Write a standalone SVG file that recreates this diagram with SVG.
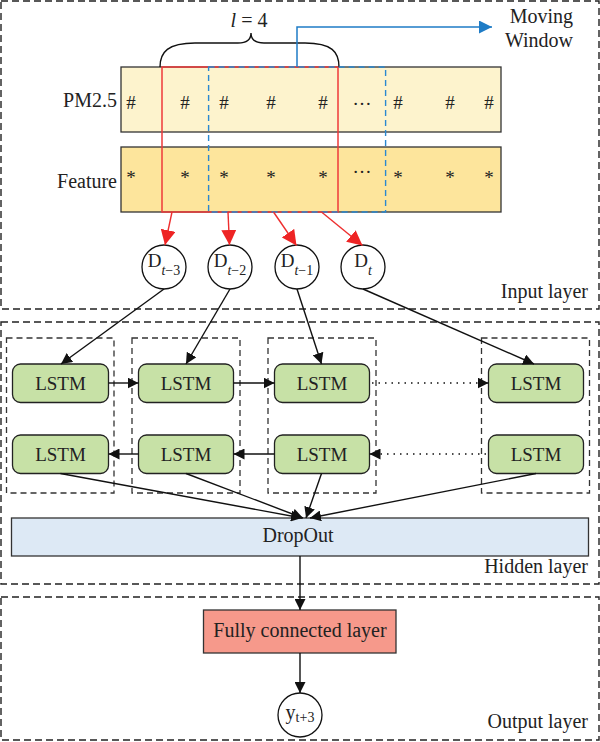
<svg xmlns="http://www.w3.org/2000/svg" width="600" height="742" viewBox="0 0 600 742">
<defs>
<style>
text{font-family:"Liberation Serif","Times New Roman",serif;fill:#222;}
.lbl{font-size:20px;}
.sym{font-size:19px;text-anchor:middle;}
.layer{fill:none;stroke:#222;stroke-width:1.4;stroke-dasharray:7 4;}
.cell{fill:none;stroke:#333;stroke-width:1.3;stroke-dasharray:6 4;}
.lstm{fill:#c7e1a6;stroke:#222;stroke-width:1.3;}
.lstm-t{font-size:19px;text-anchor:middle;}
.blk{stroke:#111;stroke-width:1.4;fill:none;}
.dot{stroke:#111;stroke-width:1.4;fill:none;stroke-dasharray:1.5 5;}
.red{stroke:#ee2e2e;stroke-width:1.4;fill:none;}
.circ{fill:#fff;stroke:#111;stroke-width:1.3;}
</style>
<marker id="ab" viewBox="0 0 10 10" refX="10" refY="5" markerWidth="11" markerHeight="11" markerUnits="userSpaceOnUse" orient="auto"><path d="M0,0 L10,5 L0,10 Z" fill="#111"/></marker>
<marker id="ar" viewBox="0 0 10 10" refX="10" refY="5" markerWidth="15" markerHeight="15" markerUnits="userSpaceOnUse" orient="auto"><path d="M0,0 L10,5 L0,10 Z" fill="#ee2424"/></marker>
<marker id="abl" viewBox="0 0 10 10" refX="10" refY="5" markerWidth="13" markerHeight="13" markerUnits="userSpaceOnUse" orient="auto"><path d="M0,0 L10,5 L0,10 Z" fill="#1f7cc6"/></marker>
</defs>
<rect width="600" height="742" fill="#fff"/>

<g id="input-layer">
<rect class="layer" x="1" y="1" width="598" height="308"/>
<text class="lbl" x="588" y="298" text-anchor="end">Input layer</text>
</g>
<g id="hidden-layer">
<rect class="layer" x="1" y="322" width="598" height="262"/>
<text class="lbl" x="588" y="573" text-anchor="end">Hidden layer</text>
</g>
<g id="output-layer">
<rect class="layer" x="1" y="597" width="598" height="143"/>
<text class="lbl" x="588" y="728" text-anchor="end">Output layer</text>
</g>

<g id="pm25">
<rect x="121" y="67" width="380" height="65" fill="#fdf3cd" stroke="#333" stroke-width="1.3"/>
<text class="lbl" x="117" y="107" text-anchor="end">PM2.5</text>
<text class="sym" y="109"><tspan x="131">#</tspan><tspan x="185">#</tspan><tspan x="224">#</tspan><tspan x="271">#</tspan><tspan x="323">#</tspan><tspan x="398">#</tspan><tspan x="450">#</tspan><tspan x="489">#</tspan></text>
<text class="sym" x="362" y="105">…</text>
</g>
<g id="feature">
<rect x="121" y="147" width="380" height="65" fill="#fde59c" stroke="#333" stroke-width="1.3"/>
<text class="lbl" x="117" y="188" text-anchor="end">Feature</text>
<text class="sym" y="184"><tspan x="131">*</tspan><tspan x="185">*</tspan><tspan x="224">*</tspan><tspan x="271">*</tspan><tspan x="323">*</tspan><tspan x="398">*</tspan><tspan x="450">*</tspan><tspan x="489">*</tspan></text>
<text class="sym" x="362" y="173">…</text>
</g>

<g id="window-l4">
<rect x="162" y="67" width="176" height="145" fill="none" stroke="#ee3a3a" stroke-width="1.5"/>
<path d="M160,67 C160,52 168,43 195,43 L238,43 C247,43 251,39 251,33 C251,39 255,43 264,43 L305,43 C332,43 339,52 339,67" fill="none" stroke="#111" stroke-width="1.4"/>
<text x="249" y="27" font-size="20" text-anchor="middle"><tspan font-style="italic">l</tspan> = 4</text>
</g>
<g id="moving-window">
<rect x="208.6" y="67" width="177" height="145" fill="none" stroke="#2a88d0" stroke-width="1.4" stroke-dasharray="6 4"/>
<path d="M297,67 L297,27 L492,27" fill="none" stroke="#1f7cc6" stroke-width="1.5" marker-end="url(#abl)"/>
<text class="lbl" x="573" y="23" text-anchor="end">Moving</text>
<text class="lbl" x="573" y="47" text-anchor="end">Window</text>
</g>

<g id="d-t3"><circle class="circ" cx="164" cy="267" r="22"/><text x="164" y="267" font-size="19" text-anchor="middle">D<tspan font-size="14" dy="8"><tspan font-style="italic">t</tspan>−3</tspan></text></g>
<g id="d-t2"><circle class="circ" cx="230" cy="267" r="22"/><text x="230" y="267" font-size="19" text-anchor="middle">D<tspan font-size="14" dy="8"><tspan font-style="italic">t</tspan>−2</tspan></text></g>
<g id="d-t1"><circle class="circ" cx="297" cy="267" r="22"/><text x="297" y="267" font-size="19" text-anchor="middle">D<tspan font-size="14" dy="8"><tspan font-style="italic">t</tspan>−1</tspan></text></g>
<g id="d-t"><circle class="circ" cx="363" cy="267" r="22"/><text x="363" y="267" font-size="19" text-anchor="middle">D<tspan font-size="14" dy="8" font-style="italic">t</tspan></text></g>

<g id="cell-1"><rect class="cell" x="6.5" y="338" width="107.5" height="155"/></g>
<g id="cell-2"><rect class="cell" x="132" y="338" width="108" height="155"/></g>
<g id="cell-3"><rect class="cell" x="268" y="338" width="108" height="155"/></g>
<g id="cell-4"><rect class="cell" x="481.5" y="338" width="108" height="155"/></g>

<g id="lstm-f1"><rect class="lstm" x="12.5" y="364" width="96" height="38.5" rx="8"/><text class="lstm-t" x="60.5" y="390">LSTM</text></g>
<g id="lstm-f2"><rect class="lstm" x="138.5" y="364" width="95" height="38.5" rx="8"/><text class="lstm-t" x="186" y="390">LSTM</text></g>
<g id="lstm-f3"><rect class="lstm" x="274.5" y="364" width="95" height="38.5" rx="8"/><text class="lstm-t" x="322" y="390">LSTM</text></g>
<g id="lstm-f4"><rect class="lstm" x="488.5" y="364" width="95" height="38.5" rx="8"/><text class="lstm-t" x="536" y="390">LSTM</text></g>
<g id="lstm-b1"><rect class="lstm" x="12.5" y="435" width="96" height="38.5" rx="8"/><text class="lstm-t" x="60.5" y="461">LSTM</text></g>
<g id="lstm-b2"><rect class="lstm" x="138.5" y="435" width="95" height="38.5" rx="8"/><text class="lstm-t" x="186" y="461">LSTM</text></g>
<g id="lstm-b3"><rect class="lstm" x="274.5" y="435" width="95" height="38.5" rx="8"/><text class="lstm-t" x="322" y="461">LSTM</text></g>
<g id="lstm-b4"><rect class="lstm" x="488.5" y="435" width="95" height="38.5" rx="8"/><text class="lstm-t" x="536" y="461">LSTM</text></g>

<g id="dropout"><rect x="11.5" y="518" width="577" height="38" fill="#dde9f5" stroke="#333" stroke-width="1.3"/><text class="lbl" x="298" y="542" text-anchor="middle">DropOut</text></g>
<g id="dense"><rect x="203.5" y="610" width="192.5" height="43" fill="#f6998b" stroke="#333" stroke-width="1.3"/><text class="lbl" x="300" y="637" text-anchor="middle">Fully connected layer</text></g>
<g id="y-out"><circle class="circ" cx="300" cy="715" r="22"/><text x="300" y="719" font-size="20" text-anchor="middle">y<tspan font-size="14" dy="3">t+3</tspan></text></g>

<g id="connectors">
<line class="red" x1="172" y1="212" x2="165" y2="245" marker-end="url(#ar)"/>
<line class="red" x1="228" y1="212" x2="229.5" y2="245" marker-end="url(#ar)"/>
<line class="red" x1="273.5" y1="212" x2="296.5" y2="245.5" marker-end="url(#ar)"/>
<line class="red" x1="321.5" y1="212" x2="362.5" y2="245.5" marker-end="url(#ar)"/>

<line class="blk" x1="164" y1="289" x2="61" y2="364" marker-end="url(#ab)"/>
<line class="blk" x1="230" y1="289" x2="186" y2="364" marker-end="url(#ab)"/>
<line class="blk" x1="297" y1="289" x2="321.5" y2="364" marker-end="url(#ab)"/>
<line class="blk" x1="363" y1="289" x2="534" y2="364" marker-end="url(#ab)"/>

<line class="blk" x1="108.5" y1="383" x2="138.5" y2="383" marker-end="url(#ab)"/>
<line class="blk" x1="233.5" y1="383" x2="274.5" y2="383" marker-end="url(#ab)"/>
<line class="dot" x1="372" y1="383" x2="478" y2="383"/>
<line class="blk" x1="478" y1="383" x2="488.5" y2="383" marker-end="url(#ab)"/>

<line class="blk" x1="138.5" y1="454" x2="108.5" y2="454" marker-end="url(#ab)"/>
<line class="blk" x1="274.5" y1="454" x2="233.5" y2="454" marker-end="url(#ab)"/>
<line class="dot" x1="486" y1="454" x2="380" y2="454"/>
<line class="blk" x1="380" y1="454" x2="369.5" y2="454" marker-end="url(#ab)"/>

<line class="blk" x1="60.5" y1="473.5" x2="302" y2="518" marker-end="url(#ab)"/>
<line class="blk" x1="186" y1="473.5" x2="303" y2="518" marker-end="url(#ab)"/>
<line class="blk" x1="321.5" y1="473.5" x2="306" y2="518" marker-end="url(#ab)"/>
<line class="blk" x1="536" y1="473.5" x2="310" y2="518" marker-end="url(#ab)"/>

<line class="blk" x1="300" y1="556" x2="300" y2="610" marker-end="url(#ab)"/>
<line class="blk" x1="300" y1="653" x2="300" y2="693" marker-end="url(#ab)"/>
</g>
</svg>
